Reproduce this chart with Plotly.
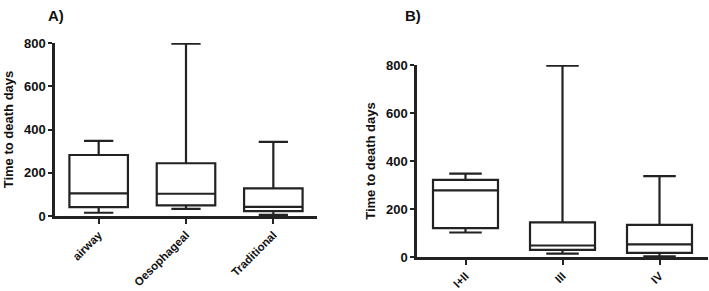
import plotly.graph_objects as go

# Panel A data
cat_a = ["airway", "Oesophageal", "Traditional"]
a_low = [15, 33, 5]
a_q1 = [41, 49, 23]
a_med = [105, 103, 42]
a_q3 = [282, 244, 128]
a_high = [347, 797, 343]

# Panel B data
cat_b = ["I+II", "III", "IV"]
b_low = [102, 14, 3]
b_q1 = [120, 30, 17]
b_med = [278, 48, 53]
b_q3 = [321, 144, 134]
b_high = [347, 797, 337]

W, H = 709, 291
LINE = "#222222"
FONT = "Liberation Sans, Arial, sans-serif"

fig = go.Figure()
fig.add_trace(go.Box(x=cat_a, q1=a_q1, median=a_med, q3=a_q3,
                     lowerfence=a_low, upperfence=a_high, width=0.67,
                     fillcolor="white", line=dict(color=LINE, width=2.2),
                     whiskerwidth=0.5, boxpoints=False, xaxis="x", yaxis="y",
                     showlegend=False, hoverinfo="skip"))
fig.add_trace(go.Box(x=cat_b, q1=b_q1, median=b_med, q3=b_q3,
                     lowerfence=b_low, upperfence=b_high, width=0.67,
                     fillcolor="white", line=dict(color=LINE, width=2.2),
                     whiskerwidth=0.5, boxpoints=False, xaxis="x2", yaxis="y2",
                     showlegend=False, hoverinfo="skip"))

def px_x(p):
    return p / W

def px_y(p):
    return 1 - p / H

ytickfont = dict(family=FONT, size=13, color="#111", weight="bold")
xtickfont = dict(family=FONT, size=11.5, color="#111", weight="bold")
titlefont = dict(family=FONT, size=13, color="#111", weight="bold")

xcommon = dict(type="category", range=[-0.5, 2.5], showline=True, linecolor=LINE,
               linewidth=2.5, ticks="outside", ticklen=5, tickwidth=2, tickcolor=LINE,
               tickangle=-45, tickfont=xtickfont, showgrid=False, zeroline=False,
               automargin=False)
ycommon = dict(range=[0, 800], tickvals=[0, 200, 400, 600, 800], showline=True,
               linecolor=LINE, linewidth=2.5, ticks="outside", ticklen=4, tickwidth=2,
               tickcolor=LINE, tickfont=ytickfont, showgrid=False, zeroline=False,
               automargin=False)

fig.update_layout(
    width=W, height=H,
    margin=dict(l=0, r=0, t=0, b=0),
    paper_bgcolor="white", plot_bgcolor="white",
    xaxis=dict(domain=[px_x(55), px_x(317)], anchor="y", **xcommon),
    yaxis=dict(domain=[px_y(216), px_y(43)], anchor="x",
               title=dict(text="Time to death days", font=titlefont, standoff=8), **ycommon),
    xaxis2=dict(domain=[px_x(417), px_x(708)], anchor="y2", **xcommon),
    yaxis2=dict(domain=[px_y(257), px_y(65)], anchor="x2",
                title=dict(text="Time to death days", font=titlefont, standoff=8), **ycommon),
    annotations=[
        dict(text="A)", x=px_x(56), y=px_y(15), xref="paper", yref="paper",
             xanchor="center", yanchor="middle",
             showarrow=False, font=dict(family=FONT, size=15, color="#111", weight="bold")),
        dict(text="B)", x=px_x(413), y=px_y(15), xref="paper", yref="paper",
             xanchor="center", yanchor="middle",
             showarrow=False, font=dict(family=FONT, size=15, color="#111", weight="bold")),
    ],
)

fig.write_html("out.html")
